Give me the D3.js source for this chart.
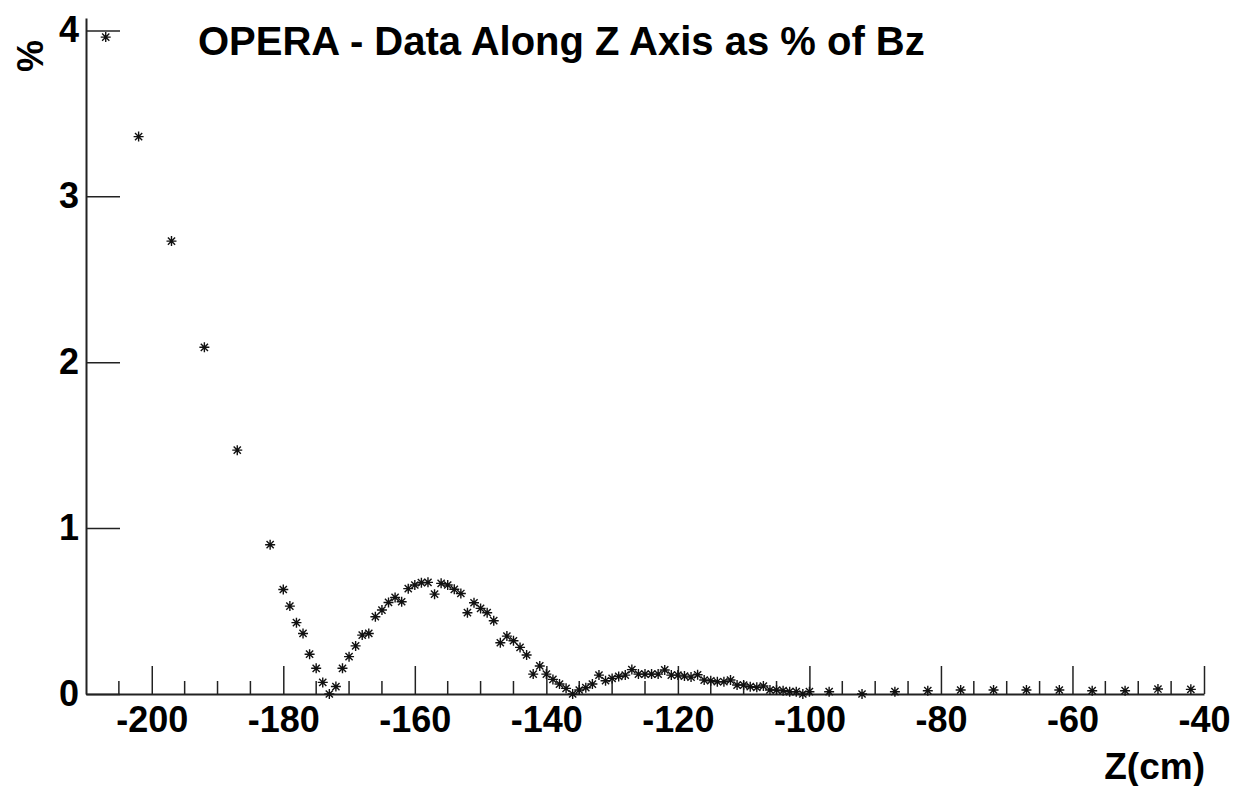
<!DOCTYPE html>
<html>
<head>
<meta charset="utf-8">
<script src="https://cdn.jsdelivr.net/npm/d3@7"></script>
<style>
  body { margin: 0; background: #fff; }
  text { font-family: "Liberation Sans", Arial, sans-serif; font-weight: bold; }
</style>
</head>
<body>
<div id="chart"></div>
<script>
// Data: z position (cm) and field as % of Bz
const zValues = [
  -207, -202, -197, -192, -187, -182,
  -180, -179, -178, -177, -176, -175, -174, -173, -172, -171,
  -170, -169, -168, -167, -166, -165, -164, -163, -162, -161,
  -160, -159, -158, -157, -156, -155, -154, -153, -152, -151,
  -150, -149, -148, -147, -146, -145, -144, -143, -142, -141,
  -140, -139, -138, -137, -136, -135, -134, -133, -132, -131,
  -130, -129, -128, -127, -126, -125, -124, -123, -122, -121,
  -120, -119, -118, -117, -116, -115, -114, -113, -112, -111,
  -110, -109, -108, -107, -106, -105, -104, -103, -102, -101,
  -100, -97, -92, -87, -82, -77, -72, -67, -62, -57, -52, -47, -42
];
const pctValues = [
  3.96, 3.36, 2.73, 2.09, 1.47, 0.90,
  0.63, 0.53, 0.43, 0.365, 0.24, 0.155, 0.07, 0.0, 0.045, 0.155,
  0.225, 0.29, 0.355, 0.365, 0.466, 0.506, 0.552, 0.582, 0.556, 0.635,
  0.657, 0.671, 0.673, 0.602, 0.667, 0.657, 0.631, 0.606, 0.49, 0.55,
  0.516, 0.49, 0.442, 0.309, 0.349, 0.321, 0.281, 0.235, 0.12, 0.169,
  0.12, 0.088, 0.06, 0.034, 0.0, 0.024, 0.038, 0.06, 0.114, 0.08,
  0.094, 0.106, 0.114, 0.147, 0.12, 0.12, 0.12, 0.12, 0.145, 0.114,
  0.114, 0.108, 0.102, 0.116, 0.084, 0.08, 0.074, 0.074, 0.084, 0.054,
  0.054, 0.044, 0.04, 0.048, 0.024, 0.024, 0.02, 0.014, 0.014, 0.0,
  0.014, 0.014, 0.0, 0.014, 0.02, 0.024, 0.024, 0.024, 0.024, 0.02, 0.02, 0.03, 0.028
];
const xMajorTicks = [-200, -180, -160, -140, -120, -100, -80, -60, -40];
const yTicks = [0, 1, 2, 3, 4];

const width = 1249;
const height = 786;

const dataset = zValues.map((z, i) => [z, pctValues[i]]);

const xScale = d3.scaleLinear().domain([-210, -40]).range([86, 1204]);
const yScale = d3.scaleLinear().domain([0, 4.075]).range([694, 18]);

const svg = d3.select("#chart").append("svg")
  .attr("width", width)
  .attr("height", height)
  .style("background", "#fff");

// X axis: major ticks point up into the frame (plain hyphen for minus)
const xAxis = svg.append("g")
  .attr("transform", `translate(0,${yScale(0)})`)
  .call(d3.axisBottom(xScale)
    .tickValues(xMajorTicks)
    .tickFormat((d) => `${d}`)
    .tickSizeInner(-28)
    .tickSizeOuter(0)
    .tickPadding(12));
xAxis.select(".domain").attr("stroke", "#222").attr("stroke-width", 2);
xAxis.selectAll(".tick line").attr("stroke", "#222").attr("stroke-width", 1.5);
xAxis.selectAll(".tick text")
  .attr("fill", "#000")
  .style("font-size", "36px");

// minor ticks every 5 cm
const minorTicks = d3.range(-205, -40, 5).filter((d) => d % 20 !== 0);
svg.append("g")
  .selectAll("line")
  .data(minorTicks)
  .enter()
  .append("line")
  .attr("x1", (d) => xScale(d))
  .attr("x2", (d) => xScale(d))
  .attr("y1", yScale(0))
  .attr("y2", yScale(0) - 13)
  .attr("stroke", "#222")
  .attr("stroke-width", 1.5);

// Y axis: ticks point right into the frame
const yAxis = svg.append("g")
  .attr("transform", `translate(${xScale(-210)},0)`)
  .call(d3.axisLeft(yScale)
    .tickValues(yTicks)
    .tickFormat((d) => `${d}`)
    .tickSizeInner(-34)
    .tickSizeOuter(0)
    .tickPadding(7));
yAxis.select(".domain").attr("stroke", "#222").attr("stroke-width", 2);
yAxis.selectAll(".tick line").attr("stroke", "#222").attr("stroke-width", 1.5);
yAxis.selectAll(".tick text")
  .attr("fill", "#000")
  .style("font-size", "36px");

// asterisk markers
const star = "M-5,0H5M0,-5V5M-3.6,-3.6L3.6,3.6M-3.6,3.6L3.6,-3.6";
svg.append("g")
  .selectAll("path")
  .data(dataset)
  .enter()
  .append("path")
  .attr("d", star)
  .attr("transform", (d) => `translate(${xScale(d[0])},${yScale(d[1])})`)
  .attr("fill", "none")
  .attr("stroke", "#111")
  .attr("stroke-width", 1.4);

// Titles
svg.append("text")
  .attr("x", 198)
  .attr("y", 55)
  .style("font-size", "40px")
  .text("OPERA - Data Along Z Axis as % of Bz");

svg.append("text")
  .attr("x", 1205)
  .attr("y", 779)
  .attr("text-anchor", "end")
  .style("font-size", "37px")
  .text("Z(cm)");

svg.append("text")
  .attr("transform", "translate(43,56) rotate(-90)")
  .attr("text-anchor", "middle")
  .style("font-size", "36px")
  .text("%");
</script>
</body>
</html>
